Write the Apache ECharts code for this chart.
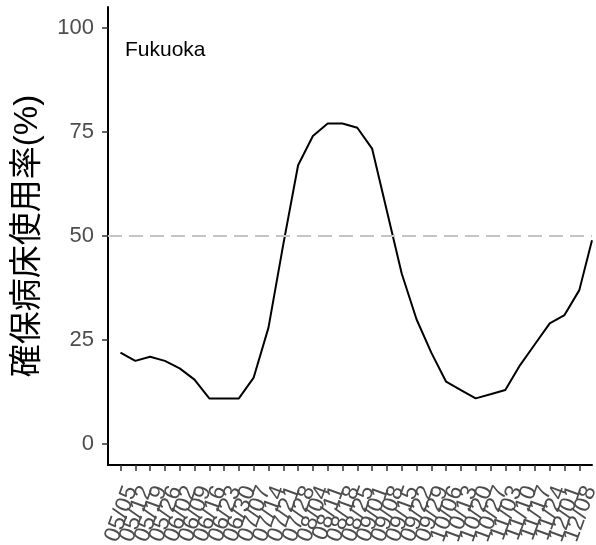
<!DOCTYPE html>
<html><head><meta charset="utf-8">
<script src="https://cdn.jsdelivr.net/npm/echarts@6/dist/echarts.min.js"></script>
<style>html,body{margin:0;padding:0;background:#fff}#c{width:596px;height:545px}</style>
</head><body><div id="c"></div>
<script>
const year = 2022;
const tickLabels = ['05/05','05/12','05/19','05/26','06/02','06/09','06/16','06/23','06/30','07/07','07/14','07/21','07/28','08/04','08/11','08/18','08/25','09/01','09/08','09/15','09/22','09/29','10/06','10/13','10/20','10/27','11/03','11/10','11/17','11/24','12/01','12/08'];
const dates = ['05/05','05/12','05/19','05/26','06/02','06/09','06/16','06/23','06/30','07/07','07/14','07/21','07/28','08/04','08/11','08/18','08/25','09/01','09/08','09/15','09/22','09/29','10/06','10/13','10/20','10/27','11/03','11/10','11/17','11/24','12/01','12/08','12/14'];
const values = [22,20,21,20,18.2,15.5,11,11,11,16,28,48,67,74,77,77,76,71,56,41,30,22,15,13,11,12,13,19,24,29,31,37,49];
const yTicks = [0,25,50,75,100];
const threshold = 50;
const region = 'Fukuoka';
const yTitle = '確保病床使用率(%)';

const X_MIN = -5.9, X_MAX = 223;
const base = Date.UTC(year, 4, 5);
function dayOf(s){ const p = s.split('/'); return (Date.UTC(year, +p[0]-1, +p[1]) - base) / 86400000; }
const tickDays = tickLabels.map(dayOf);
const labelByDay = {}; tickLabels.forEach((l,i)=>labelByDay[tickDays[i]] = l);
const labelDays = [X_MIN].concat(tickDays, [X_MAX]);
const seriesData = dates.map((d,i)=>[dayOf(d), values[i]]);

const FONT = "'Liberation Sans', Arial, 'Noto Sans CJK JP', sans-serif";
const chart = echarts.init(document.getElementById('c'), null, {renderer:'canvas'});
chart.setOption({
  animation:false,
  grid:{left:108, right:4, top:7, bottom:80, containLabel:false, outerBoundsMode:'none'},
  xAxis:{
    type:'value', min:X_MIN, max:X_MAX,
    splitLine:{show:false},
    axisLine:{show:true, onZero:false, lineStyle:{color:'#000', width:2}},
    axisTick:{show:true, length:6, customValues:tickDays, lineStyle:{color:'#333', width:1.5}},
    axisLabel:{show:true, customValues:labelDays, interval:0, rotate:70, margin:18, verticalAlign:'top',
      fontSize:23, color:'#4d4d4d', fontFamily:FONT,
      showMinLabel:true, showMaxLabel:true, hideOverlap:false,
      formatter:(v)=>labelByDay[v] || ''}
  },
  yAxis:{
    type:'value', min:-5, max:105,
    name:yTitle, nameLocation:'middle', nameGap:64, nameRotate:90,
    nameTextStyle:{fontSize:33, color:'#000', fontFamily:FONT},
    splitLine:{show:false},
    axisLine:{show:true, onZero:false, lineStyle:{color:'#000', width:2}},
    axisTick:{show:true, length:6, customValues:yTicks, lineStyle:{color:'#333', width:1.5}},
    axisLabel:{show:true, customValues:yTicks, margin:14, fontSize:22, color:'#4d4d4d', fontFamily:FONT,
      showMinLabel:true, showMaxLabel:true}
  },
  series:[{
    type:'line', data:seriesData, symbol:'none', smooth:false,
    lineStyle:{color:'#000', width:2},
    markLine:{silent:true, symbol:'none', label:{show:false},
      lineStyle:{color:'#c4c4c4', type:[14,7], width:2},
      data:[{yAxis:threshold}]}
  }],
  graphic:[{type:'text', left:125, top:40, style:{text:region, font:"21px "+FONT, fill:'#000'}}]
});
</script></body></html>
